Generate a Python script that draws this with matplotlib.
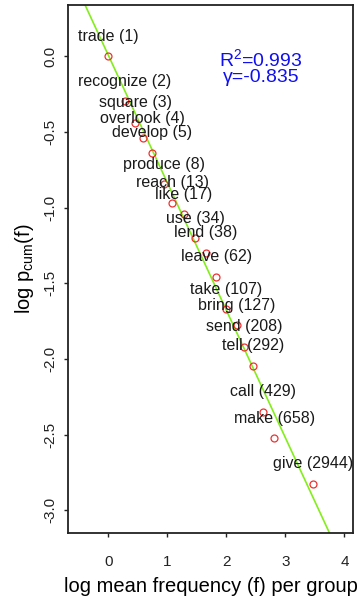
import matplotlib
matplotlib.use('Agg')
import matplotlib.pyplot as plt

plt.rcParams['font.family'] = ['Liberation Sans', 'DejaVu Sans']
plt.rcParams['mathtext.fontset'] = 'custom'
plt.rcParams['mathtext.rm'] = 'Liberation Sans'
plt.rcParams['mathtext.it'] = 'Liberation Sans'

verbs = ['trade', 'recognize', 'square', 'overlook', 'develop', 'produce',
         'reach', 'like', 'use', 'lend', 'leave', 'take', 'bring', 'send',
         'tell', 'call', 'make', 'give']
counts = [1, 2, 3, 4, 5, 8, 13, 17, 34, 38, 62, 107, 127, 208, 292, 429, 658, 2944]
log_freq = [0.0, 0.283, 0.453, 0.583, 0.746, 0.944, 1.085, 1.283, 1.47,
            1.65, 1.825, 1.995, 2.176, 2.305, 2.447, 2.627, 2.808, 3.464]
log_pcum = [0.0, -0.30, -0.44, -0.543, -0.638, -0.845, -0.968, -1.043, -1.203,
            -1.298, -1.456, -1.672, -1.776, -1.919, -2.046, -2.348, -2.524, -2.825]

fit_intercept = 0.005
fit_slope = -0.842
r2 = 0.993
gamma = -0.835

xticks = [0, 1, 2, 3, 4]
yticks = [0.0, -0.5, -1.0, -1.5, -2.0, -2.5, -3.0]


def main():
    fig = plt.figure(figsize=(3.6, 5.97), dpi=100)
    ax = fig.add_axes([0.189, 0.1072, 0.792, 0.8844])

    ax.axline((0, fit_intercept), slope=fit_slope, color='#84ee1c', lw=1.2, zorder=1)
    ax.plot(log_freq, log_pcum, 'o', mfc='none', mec='#f03030', ms=5, mew=0.9, zorder=2)

    for v, c, x, y in zip(verbs, counts, log_freq, log_pcum):
        ax.annotate('%s (%d)' % (v, c), (x, y), xytext=(0, 14.4),
                    textcoords='offset points', ha='center', va='center',
                    fontsize=11.5, color='#1a1a1a', zorder=3)

    ax.text(0.677, 0.898, r'R$^2$=%.3f' % r2, transform=ax.transAxes,
            ha='center', va='center', fontsize=14, color='#1010ee')
    ax.text(0.677, 0.862, '\u03b3=%.3f' % gamma, transform=ax.transAxes,
            ha='center', va='center', fontsize=14, color='#1010ee')

    ax.set_xlim(-0.683, 4.147)
    ax.set_ylim(-3.149, 0.337)
    ax.set_xticks(xticks)
    ax.set_yticks(yticks)
    ax.set_xticklabels([str(t) for t in xticks])
    ax.set_yticklabels(['%.1f' % t for t in yticks], rotation=90, va='center')
    ax.tick_params(axis='x', length=3, width=1, pad=12.5, labelsize=11, colors='#222222')
    ax.tick_params(axis='y', length=3, width=1, pad=5, labelsize=11, colors='#222222')
    for s in ax.spines.values():
        s.set_linewidth(1.3)
        s.set_color('#222222')

    ax.set_xlabel('log mean frequency (f) per group', fontsize=14.5, va='center')
    ax.xaxis.set_label_coords(0.5, -0.1017)
    ax.set_ylabel(r'log p$_{\mathrm{cum}}$(f)', fontsize=14.5, va='center')
    ax.yaxis.set_label_coords(-0.151, 0.5)

    fig.savefig('out.png', dpi=100)


if __name__ == '__main__':
    main()
